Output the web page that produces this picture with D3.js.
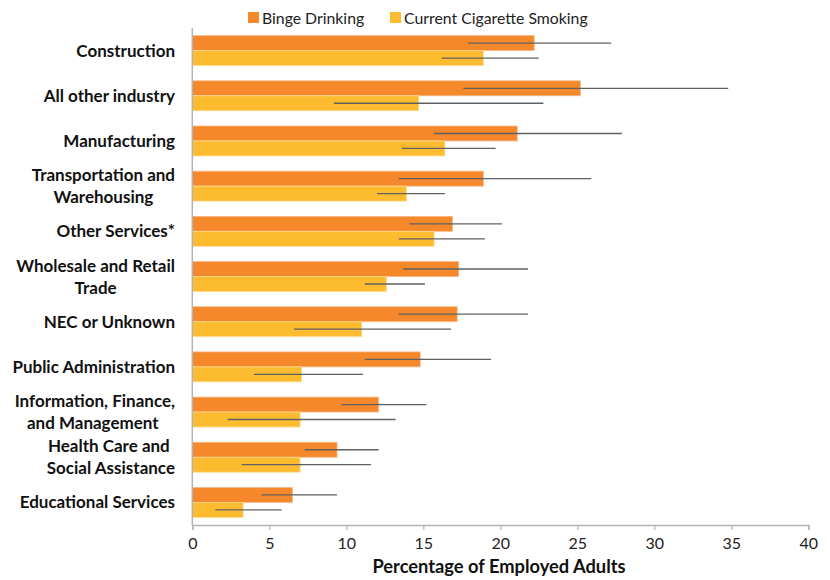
<!DOCTYPE html>
<html><head><meta charset="utf-8">
<script src="https://cdn.jsdelivr.net/npm/d3@7"></script>
<style>body{margin:0;background:#fff}svg{display:block}</style>
</head><body>
<svg id="chart" width="830" height="580"></svg>
<script>
const categories = [
  ["Construction"],
  ["All other industry"],
  ["Manufacturing"],
  ["Transportation and", "Warehousing"],
  ["Other Services*"],
  ["Wholesale and Retail", "Trade"],
  ["NEC or Unknown"],
  ["Public Administration"],
  ["Information, Finance,", "and Management\u00a0"],
  ["Health Care and\u00a0", "Social Assistance"],
  ["Educational Services"]
];
const seriesNames = ["Binge Drinking", "Current Cigarette Smoking"];
const bingeValues = [22.2, 25.2, 21.1, 18.9, 16.9, 17.3, 17.2, 14.8, 12.1, 9.4, 6.5];
const bingeLow    = [17.9, 17.6, 15.7, 13.4, 14.1, 13.7, 13.4, 11.2, 9.7, 7.3, 4.5];
const bingeHigh   = [27.2, 34.8, 27.9, 25.9, 20.1, 21.8, 21.8, 19.4, 15.2, 12.1, 9.4];
const cigValues   = [18.9, 14.7, 16.4, 13.9, 15.7, 12.6, 11.0, 7.1, 7.0, 7.0, 3.3];
const cigLow      = [16.2, 9.2, 13.6, 12.0, 13.4, 11.2, 6.6, 4.0, 2.3, 3.2, 1.5];
const cigHigh     = [22.5, 22.8, 19.7, 16.4, 19.0, 15.1, 16.8, 11.1, 13.2, 11.6, 5.8];
const xTicks = [0, 5, 10, 15, 20, 25, 30, 35, 40];
const axisTitle = "Percentage of Employed Adults";

const colors = ["#F5882A", "#FDBB30"];
const svg = d3.select("#chart");
const font = "Lato, 'Liberation Sans', sans-serif";
const labelSize = 17;

const x = d3.scaleLinear().domain([0, 40]).range([192.3, 808.3]);
const y = d3.scaleBand().domain(d3.range(categories.length)).range([28, 525]).paddingInner(0.338).paddingOuter(0.169);
const ySub = d3.scaleBand().domain([0, 1]).range([0, y.bandwidth()]);

const series = [
  {vals: bingeValues, lo: bingeLow, hi: bingeHigh},
  {vals: cigValues, lo: cigLow, hi: cigHigh}
];

series.forEach((s, si) => {
  const g = svg.append("g");
  g.selectAll("rect").data(s.vals).join("rect")
    .attr("x", x(0))
    .attr("y", (d, i) => y(i) + ySub(si))
    .attr("width", d => x(d) - x(0))
    .attr("height", ySub.bandwidth())
    .attr("fill", colors[si])
    .attr("stroke", si === 0 ? "#F8B98A" : "#FDD98F")
    .attr("stroke-width", 0.8);
});
series.forEach((s, si) => {
  svg.append("g").selectAll("line").data(s.vals).join("line")
    .attr("x1", (d, i) => x(s.lo[i]))
    .attr("x2", (d, i) => x(s.hi[i]))
    .attr("y1", (d, i) => y(i) + ySub(si) + ySub.bandwidth() / 2)
    .attr("y2", (d, i) => y(i) + ySub(si) + ySub.bandwidth() / 2)
    .attr("stroke", "#606060")
    .attr("stroke-width", 1.3);
});

// y axis line
svg.append("line").attr("x1", x(0)).attr("x2", x(0)).attr("y1", 28).attr("y2", 525)
  .attr("stroke", "#b3b3b3").attr("stroke-width", 1.5);

// x axis
const xAxis = d3.axisBottom(x).tickValues(xTicks).tickSize(5).tickPadding(8).tickFormat(d3.format("d"));
const xg = svg.append("g").attr("transform", "translate(0,525)").call(xAxis);
xg.select(".domain").attr("stroke", "#b3b3b3").attr("stroke-width", 1.5);
xg.selectAll(".tick line").attr("stroke", "#b3b3b3").attr("stroke-width", 1.2);
xg.selectAll(".tick text").attr("font-family", font).attr("font-size", 16).attr("fill", "#222");

svg.append("text").attr("x", 499).attr("y", 573).attr("text-anchor", "middle")
  .attr("font-family", font).attr("font-size", 18.3).attr("font-weight", "bold").attr("fill", "#111")
  .text(axisTitle);

// category labels
categories.forEach((lines, i) => {
  const cy = y(i) + y.bandwidth() / 2;
  const t = svg.append("text").attr("font-family", font).attr("font-size", labelSize)
    .attr("font-weight", "bold").attr("fill", "#111");
  if (lines.length === 1) {
    t.attr("x", 175).attr("y", cy + 6).attr("text-anchor", "end").text(lines[0]);
  } else {
    const tmp = svg.append("text").attr("font-family", font).attr("font-size", labelSize).attr("font-weight", "bold");
    const widths = lines.map(l => { tmp.text(l); return tmp.node().getComputedTextLength(); });
    tmp.remove();
    const w = Math.max(...widths);
    const cx = 175 - w / 2;
    lines.forEach((l, k) => {
      t.append("tspan").attr("x", cx).attr("y", cy + 6 + (k - 0.5) * 22)
        .attr("text-anchor", "middle").text(l);
    });
  }
});

// legend
const legendX = [248, 390];
seriesNames.forEach((n, i) => {
  svg.append("rect").attr("x", legendX[i]).attr("y", 12).attr("width", 11).attr("height", 11).attr("fill", colors[i]);
  svg.append("text").attr("x", legendX[i] + 14).attr("y", 23.5).attr("font-family", font)
    .attr("font-size", 15.8).attr("fill", "#222").text(n);
});
</script>
</body></html>
